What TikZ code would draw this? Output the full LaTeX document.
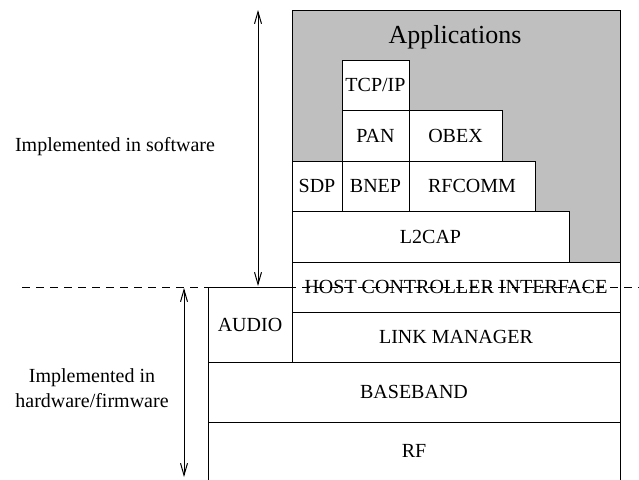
\documentclass[tikz,border=0pt]{standalone}
\usepackage{fontspec}
\setmainfont{Liberation Serif}
\usetikzlibrary{arrows.meta}

\definecolor{appgrey}{RGB}{191,191,191}

\tikzset{
	layer/.style={draw, fill=white, line width=0.8pt, inner sep=0pt, outer sep=0pt,
		anchor=north west, font=\fontsize{20}{24}\selectfont},
	side/.style={font=\fontsize{20}{25}\selectfont, align=center},
	span/.style={line width=1pt, {Straight Barb[length=12pt,width=7pt]}-{Straight Barb[length=12pt,width=7pt]}},
	split/.style={line width=0.8pt, dash pattern=on 8pt off 6pt}
}

\begin{document}
\begin{tikzpicture}[x=1pt,y=-1pt]
		
		\useasboundingbox (0,0) rectangle (639,479);
		
		% Applications area
		\node[layer, fill=appgrey, minimum width=328, minimum height=252] (apps) at (292,10) {};
		\node[font=\fontsize{26}{30}\selectfont] (appstitle) at (455,37) {Applications};
		
		% Host stack
		\node[layer, minimum width=67, minimum height=50] (tcpip) at (342,60) {TCP/IP};
		\node[layer, minimum width=67, minimum height=51] (pan) at (342,110) {PAN};
		\node[layer, minimum width=93, minimum height=51] (obex) at (409,110) {OBEX};
		\node[layer, minimum width=50, minimum height=50] (sdp) at (292,161) {SDP};
		\node[layer, minimum width=67, minimum height=50] (bnep) at (342,161) {BNEP};
		\node[layer, minimum width=126, minimum height=50] (rfcomm) at (409,161) {RFCOMM};
		\node[layer, minimum width=277, minimum height=51] (l2cap) at (292,211) {L2CAP};
		\node[layer, minimum width=328, minimum height=50] (hci) at (292,262) {HOST CONTROLLER INTERFACE};
		
		% Controller
		\node[layer, minimum width=328, minimum height=50] (lm) at (292,312) {LINK MANAGER};
		\node[layer, minimum width=84, minimum height=75] (audio) at (208,287) {AUDIO};
		\node[layer, minimum width=412, minimum height=60] (baseband) at (208,362) {BASEBAND};
		\node[layer, minimum width=412, minimum height=58] (rf) at (208,422) {RF};
		
		% Software / hardware split
		\coordinate (splitL) at (22,287);
		\coordinate (splitR) at (639,287);
		\draw[split] (splitL) -- (splitR);
		
		% Extents
		\coordinate (swtop) at (258,10);
		\coordinate (swbot) at (258,286);
		\draw[span] (swtop) -- (swbot);
		\coordinate (hwtop) at (184,288);
		\coordinate (hwbot) at (184,477);
		\draw[span] (hwtop) -- (hwbot);
		
		\node[side] (swtext) at (115,147) {Implemented in software};
		\node[side] (hwtext) at (92,388) {Implemented in\\hardware/firmware};
		
	\end{tikzpicture}
\end{document}
